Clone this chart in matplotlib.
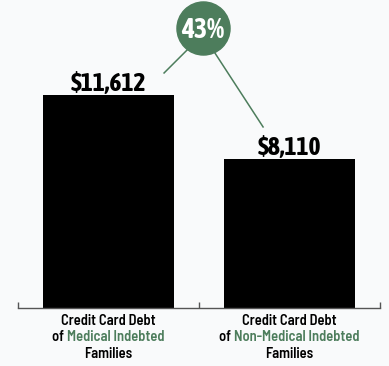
import matplotlib
matplotlib.use("Agg")
import matplotlib.pyplot as plt
from matplotlib import font_manager

categories = ["Medical Indebted", "Non-Medical Indebted"]
debt = [11612, 8110]
value_labels = ["$11,612", "$8,110"]

GREEN = "#4d7d5c"
BG = "#f9fafb"


def find_font(*names):
    files = {f.fname.split("/")[-1]: f.fname for f in font_manager.fontManager.ttflist}
    for n in names:
        if n in files:
            return font_manager.FontProperties(fname=files[n])
    return font_manager.FontProperties(family="DejaVu Sans", weight="bold", stretch="condensed")


heavy = find_font("AsapCondensed-Bold.ttf", "CabinCondensed-Bold.ttf",
                  "DejaVuSansCondensed-Bold.ttf")
small = find_font("BarlowSemiCondensed-SemiBold.ttf", "CabinCondensed-Bold.ttf",
                  "DejaVuSansCondensed-Bold.ttf")


def fp(base, size):
    p = base.copy()
    p.set_size(size)
    return p


fig = plt.figure(figsize=(3.89, 3.66), dpi=100, facecolor=BG)
ax = fig.add_axes([18 / 389, 58 / 366, 362 / 389, 308 / 366])
ax.set_facecolor(BG)

xs = [0.5, 1.5]
ax.bar(xs, debt, width=0.72, color="black")
ax.set_xlim(0, 2)
ax.set_ylim(0, 16790)

for s in ["top", "right", "left"]:
    ax.spines[s].set_visible(False)
ax.spines["bottom"].set_color("#555555")
ax.spines["bottom"].set_linewidth(1.0)
ax.set_yticks([])
ax.set_xticks([0, 1, 2])
ax.set_xticklabels([])
ax.tick_params(axis="x", direction="in", length=4, width=1, color="#555555")

for x, v, lab in zip(xs, debt, value_labels):
    ax.annotate(lab, (x, v), xytext=(0, 3.1), textcoords="offset points",
                ha="center", va="baseline", fontproperties=fp(heavy, 18.5))

# percentage bubble
pct = round((debt[0] / debt[1] - 1) * 100)
cx, cy = 1.022, 15265
ax.scatter([cx], [cy], s=1460, color=GREEN, zorder=5, clip_on=False)
ax.annotate(f"{pct}%", (cx, cy), xytext=(0, -7.2), textcoords="offset points",
            ha="center", va="baseline", color="white",
            fontproperties=fp(heavy, 20), zorder=6)
ax.plot([0.807, 0.934], [debt[0] + 1200, debt[0] + 2450], color=GREEN, lw=1.1, zorder=4)
ax.plot([1.088, 1.354], [debt[1] + 5790, debt[1] + 1760], color=GREEN, lw=1.1, zorder=4)

# category labels (multi-coloured middle line)
fig.canvas.draw()
r = fig.canvas.get_renderer()
fs = 10.5
for x, cat in zip(xs, categories):
    ax.annotate("Credit Card Debt", (x, 0), xytext=(0, -12.5), textcoords="offset points",
                ha="center", va="baseline", fontproperties=fp(small, fs), annotation_clip=False)
    ax.annotate("Families", (x, 0), xytext=(0, -35.8), textcoords="offset points",
                ha="center", va="baseline", fontproperties=fp(small, fs), annotation_clip=False)
    t1 = ax.annotate("of ", (x, 0), xytext=(0, -24), textcoords="offset points",
                     ha="left", va="baseline", fontproperties=fp(small, fs), annotation_clip=False)
    t2 = ax.annotate(cat, (x, 0), xytext=(0, -24), textcoords="offset points",
                     ha="left", va="baseline", fontproperties=fp(small, fs), color=GREEN,
                     annotation_clip=False)
    w1 = t1.get_window_extent(r).width * 72 / fig.dpi
    w2 = t2.get_window_extent(r).width * 72 / fig.dpi
    start = -(w1 + w2) / 2
    t1.set_position((start, -24))
    t2.set_position((start + w1, -24))

fig.savefig("out.png", dpi=100, facecolor=BG)
